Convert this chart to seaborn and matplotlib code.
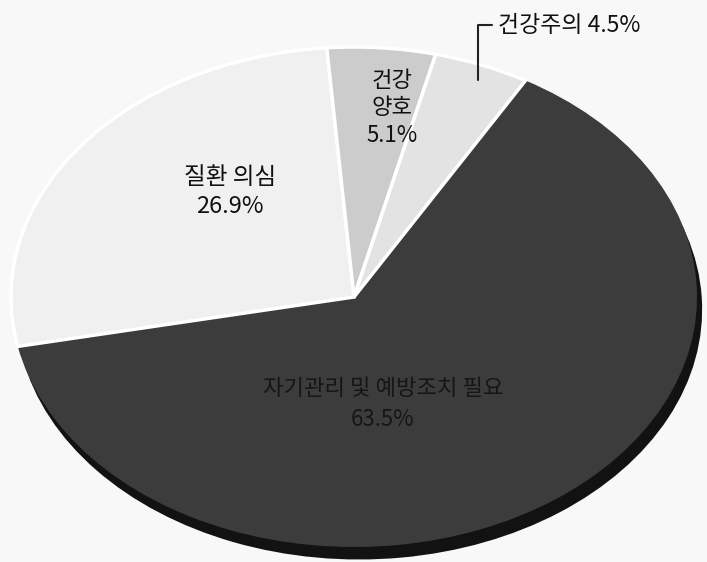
import matplotlib
matplotlib.use("Agg")
import matplotlib.pyplot as plt
import seaborn as sns

# Data
categories = ["자기관리 및 예방조치 필요", "질환 의심", "건강양호", "건강주의"]
values = [63.5, 26.9, 5.1, 4.5]
label_texts = ["자기관리 및 예방조치 필요\n63.5%", "질환 의심\n26.9%", "건강\n양호\n5.1%", "건강주의 4.5%"]

sns.set_theme(style="white")
plt.rcParams["font.family"] = ["Noto Sans CJK KR", "DejaVu Sans"]

palette = sns.color_palette(["#3c3c3c", "#f0f0f0", "#cccccc", "#e3e3e3"])
bg = "#f8f8f8"

fig = plt.figure(figsize=(7.07, 5.62), dpi=100, facecolor=bg)
ax = fig.add_axes([0, 0, 1, 1])
ax.set_facecolor(bg)

# pixel mapping
cx, rx = 354.0, 343.0
cy, ry = 297.0, 250.0

start = 60
# 3D side (rim) of the dark slice
rim_colors = ["#121212", "none", "none", "none"]
w2, _ = ax.pie(values, colors=rim_colors, startangle=start, counterclock=False,
               center=(0.015, -0.05), radius=1.0,
               wedgeprops=dict(linewidth=0), frame=True)
for w in w2:
    w.set_zorder(1)

wedges, _ = ax.pie(values, colors=palette, startangle=start, counterclock=False,
                   radius=1.0, wedgeprops=dict(linewidth=0), frame=True)
edge_cols = ["none", "white", "white", "white"]
edge_w = [0, 2.5, 2.5, 2.5]
for w, ec, lw in zip(wedges, edge_cols, edge_w):
    w.set_zorder(3)
    w.set_edgecolor(ec)
    w.set_linewidth(lw)
wedges[0].set_zorder(2)

ax.set_aspect("auto")
ax.set_xlim(-cx / rx, (707 - cx) / rx)
ax.set_ylim((cy - 562) / ry, cy / ry)
ax.axis("off")

def px(x, y):
    return ((x - cx) / rx, (cy - y) / ry)

# labels
ax.text(*px(383, 404), label_texts[0], ha="center", va="center", fontsize=16,
        color="#161616", linespacing=1.4, zorder=5)
ax.text(*px(230, 192), label_texts[1], ha="center", va="center", fontsize=17,
        color="#111111", linespacing=1.3, zorder=5)
ax.text(*px(392, 108), label_texts[2], ha="center", va="center", fontsize=16,
        color="#111111", linespacing=1.25, zorder=5)
ax.text(*px(498, 26), label_texts[3], ha="left", va="center", fontsize=16.5,
        color="#111111", zorder=5)

# leader line for 건강주의
x0, y0 = px(478, 80)
x1, y1 = px(478, 25)
x2, y2 = px(492, 25)
ax.plot([x0, x1, x2], [y0, y1, y2], color="#222222", linewidth=1.5, zorder=5)

fig.savefig("out.png", dpi=100, facecolor=bg)
